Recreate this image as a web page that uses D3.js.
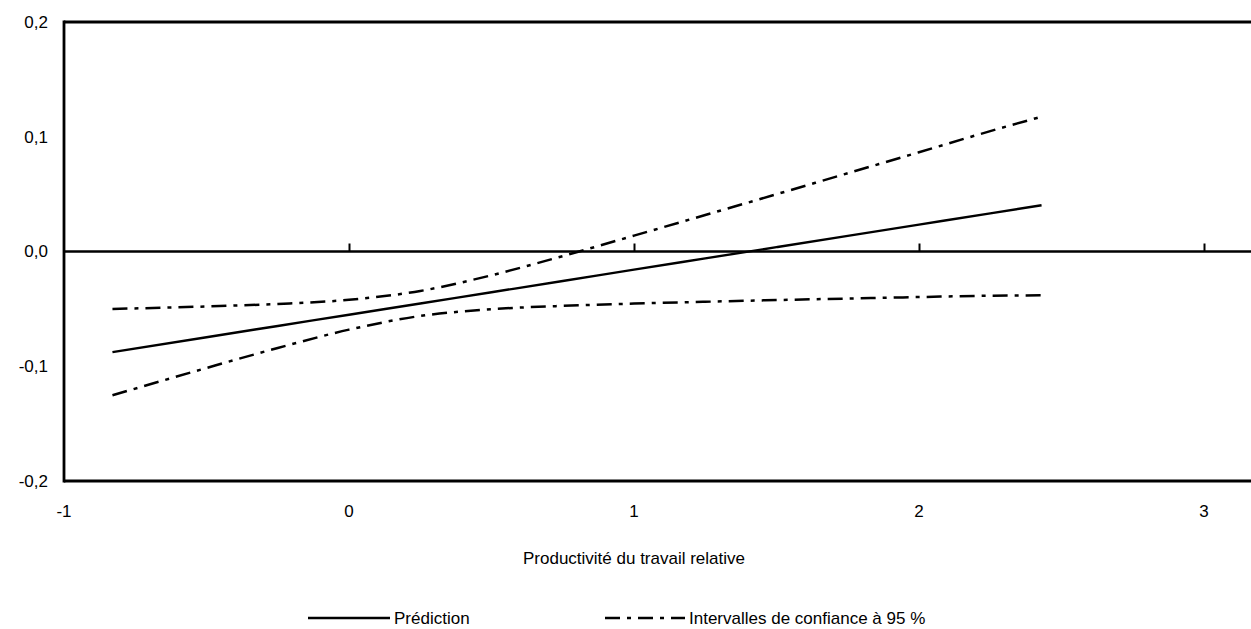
<!DOCTYPE html>
<html>
<head>
<meta charset="utf-8">
<script src="https://cdn.jsdelivr.net/npm/d3@7"></script>
<style>
  html, body { margin: 0; padding: 0; background: #fff; }
  svg { display: block; }
  text { font-family: "Liberation Sans", Arial, sans-serif; fill: #000; }
</style>
</head>
<body>
<svg id="chart" width="1251" height="629"></svg>
<script>
// Relative labour productivity (x) against the predicted effect (y)
const xValues   = [-0.83, -0.5, -0.25, 0, 0.25, 0.5, 0.75, 1, 1.25, 1.5, 1.75, 2, 2.25, 2.43];
const prediction = [-0.0877, -0.0747, -0.0649, -0.0551, -0.0453, -0.0355, -0.0257, -0.0158, -0.0060, 0.0038, 0.0136, 0.0234, 0.0332, 0.0403];
const upperCI    = [-0.0501, -0.0479, -0.0457, -0.0421, -0.0344, -0.0207, -0.0040, 0.0138, 0.0318, 0.0499, 0.0682, 0.0865, 0.1049, 0.1175];
const lowerCI    = [-0.1253, -0.1015, -0.0841, -0.0681, -0.0562, -0.0503, -0.0474, -0.0454, -0.0438, -0.0423, -0.0410, -0.0397, -0.0385, -0.0382];

const xTicks = [-1, 0, 1, 2, 3];
const yTicks = [-0.2, -0.1, 0, 0.1, 0.2];
const xTitle = "Productivité du travail relative";
const legendLabels = ["Prédiction", "Intervalles de confiance à 95 %"];

const W = 1251, H = 629;
const svg = d3.select("#chart");

const x = d3.scaleLinear().domain([-1, 3]).range([64, 1204]);
const y = d3.scaleLinear().domain([-0.2, 0.2]).range([481, 22]);
const right = W;

const fmtY = v => d3.format(".1f")(v).replace(".", ",").replace("−", "-");

// Frame: left, top and bottom edges
const frame = svg.append("g").attr("stroke", "#000").attr("stroke-width", 2.8).attr("fill", "none");
frame.append("line").attr("x1", x(-1)).attr("x2", x(-1)).attr("y1", y(0.2) - 1.4).attr("y2", y(-0.2) + 1.4);
frame.append("line").attr("x1", x(-1)).attr("x2", right).attr("y1", y(0.2)).attr("y2", y(0.2));
frame.append("line").attr("x1", x(-1)).attr("x2", right).attr("y1", y(-0.2)).attr("y2", y(-0.2));

// Horizontal axis drawn at zero, ticks pointing up
const zeroAxis = svg.append("g").attr("transform", `translate(0,${y(0)})`)
  .call(d3.axisTop(x).tickValues(xTicks.filter(d => d > -1)).tickSize(8).tickFormat(""));
zeroAxis.select(".domain").remove();
zeroAxis.selectAll(".tick line").attr("stroke", "#000").attr("stroke-width", 2);
svg.append("line").attr("x1", x(-1)).attr("x2", right).attr("y1", y(0)).attr("y2", y(0))
  .attr("stroke", "#000").attr("stroke-width", 2.6);

// Tick labels
svg.append("g").selectAll("text").data(yTicks).join("text")
  .attr("x", 48).attr("y", d => y(d)).attr("dy", "0.35em")
  .attr("text-anchor", "end").attr("font-size", 17)
  .text(fmtY);
svg.append("g").selectAll("text").data(xTicks).join("text")
  .attr("x", d => x(d)).attr("y", 511).attr("dy", "0.35em")
  .attr("text-anchor", "middle").attr("font-size", 17)
  .text(d => String(d));

// Axis title
svg.append("text").attr("x", x(1)).attr("y", 558).attr("dy", "0.35em")
  .attr("text-anchor", "middle").attr("font-size", 17).text(xTitle);

// Series
const line = d3.line().x((d, i) => x(xValues[i])).y(d => y(d)).curve(d3.curveMonotoneX);
const dashDot = "15,7,4,7";
svg.append("path").attr("d", line(prediction)).attr("fill", "none")
  .attr("stroke", "#000").attr("stroke-width", 2.4);
[upperCI, lowerCI].forEach(s => {
  svg.append("path").attr("d", line(s)).attr("fill", "none")
    .attr("stroke", "#000").attr("stroke-width", 2.5).attr("stroke-dasharray", dashDot);
});

// Legend
const ly = 618;
const legend = svg.append("g");
legend.append("line").attr("x1", 308).attr("x2", 390).attr("y1", ly).attr("y2", ly)
  .attr("stroke", "#000").attr("stroke-width", 2.4);
legend.append("text").attr("x", 394).attr("y", ly).attr("dy", "0.35em").attr("font-size", 17).text(legendLabels[0]);
legend.append("line").attr("x1", 605).attr("x2", 685).attr("y1", ly).attr("y2", ly)
  .attr("stroke", "#000").attr("stroke-width", 2.5).attr("stroke-dasharray", dashDot);
legend.append("text").attr("x", 689).attr("y", ly).attr("dy", "0.35em").attr("font-size", 17).text(legendLabels[1]);
</script>
</body>
</html>
